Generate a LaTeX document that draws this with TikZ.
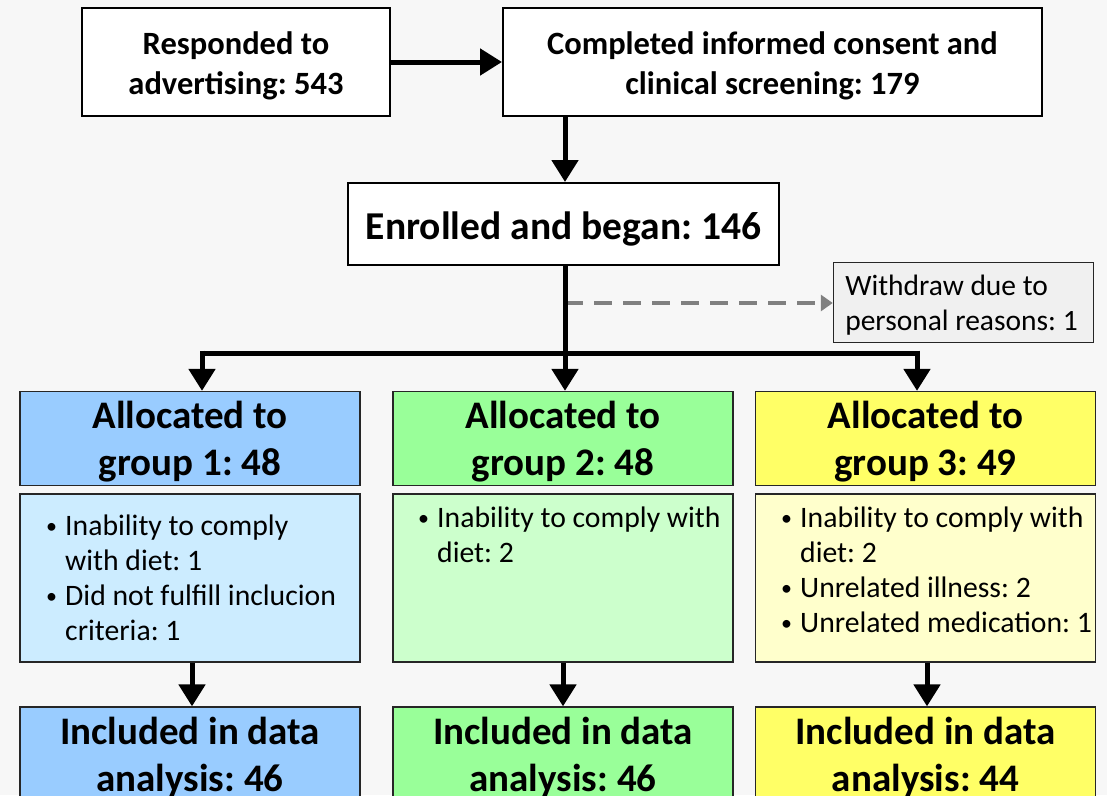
\documentclass[tikz,border=0pt]{standalone}
\usepackage{fontspec}
\setmainfont{Carlito}
\usetikzlibrary{arrows.meta}
\definecolor{bgc}{RGB}{247,247,247}
\definecolor{bordc}{RGB}{38,38,38}
\definecolor{gA}{RGB}{153,204,255}
\definecolor{gAd}{RGB}{204,236,255}
\definecolor{gB}{RGB}{153,255,153}
\definecolor{gBd}{RGB}{204,255,204}
\definecolor{gC}{RGB}{255,255,102}
\definecolor{gCd}{RGB}{255,255,204}
\definecolor{wdfill}{RGB}{240,240,240}
\definecolor{dashc}{RGB}{128,128,128}
\newcommand{\bul}{\raisebox{2pt}{\fontsize{22}{22}\selectfont\textbullet}}
\newcommand{\lowr}[2]{\raisebox{-#1}[\height][\depth]{#2}}
\frenchspacing
\begin{document}
\begin{tikzpicture}[x=1pt,y=-1pt,
  topbox/.style={draw=black, line width=2pt, fill=white, align=center, inner sep=0pt,
    font=\bfseries\fontsize{32.5}{40}\selectfont},
  enrbox/.style={draw=black, line width=2pt, fill=white, align=center, inner sep=0pt,
    font=\bfseries\fontsize{39.5}{46}\selectfont},
  grpbox/.style={draw=bordc, line width=1.3pt, align=center, inner sep=0pt,
    minimum width=340pt, minimum height=90pt, font=\bfseries\fontsize{39}{47}\selectfont},
  detbox/.style={draw=bordc, line width=1.3pt, inner sep=0pt, minimum width=340pt, minimum height=168pt},
  dettext/.style={anchor=north west, inner sep=0pt, align=left, font=\fontsize{29.7}{35}\selectfont},
  wdbox/.style={draw=bordc, line width=1pt, fill=wdfill, inner sep=0pt, align=left,
    minimum width=257pt, minimum height=80pt, font=\fontsize{29.5}{35}\selectfont},
  arr/.style={line width=5pt, -{Triangle[width=26pt,length=22pt]}},
  dasharrow/.style={draw=dashc, line width=4pt, dash pattern=on 18pt off 11pt,
    -{Triangle[width=16pt,length=12pt]}},
]
\useasboundingbox (0,0) rectangle (1107,795);
\clip (0,0) rectangle (1107,795);
\fill[bgc] (0,0) rectangle (1107,795);

% top row
\node[topbox, minimum width=308pt, minimum height=108pt] (adv) at (236,62) {\lowr{4pt}{\begin{tabular}{@{}c@{}}Responded to\\advertising: 543\end{tabular}}};
\node[topbox, minimum width=539pt, minimum height=108pt] (cons) at (772.5,62) {\lowr{4pt}{\begin{tabular}{@{}c@{}}Completed informed consent and\\clinical screening: 179\end{tabular}}};
\node[enrbox, minimum width=431pt, minimum height=82pt] (enr) at (563.5,224) {\lowr{5pt}{Enrolled and began: 146}};

% withdraw
\node[wdbox] (wd) at (963.5,302) {\hspace*{12pt}\lowr{4pt}{\begin{tabular}{@{}l@{}}Withdraw due to\\personal reasons: 1\end{tabular}}\hspace*{16pt}};

% groups
\node[grpbox, fill=gA] (g1) at (190,438.5) {\lowr{4pt}{\begin{tabular}{@{}c@{}}Allocated to\\group 1: 48\end{tabular}}};
\node[grpbox, fill=gB] (g2) at (563,438.5) {\lowr{4pt}{\begin{tabular}{@{}c@{}}Allocated to\\group 2: 48\end{tabular}}};
\node[grpbox, fill=gC] (g3) at (925.5,438.5) {\lowr{4pt}{\begin{tabular}{@{}c@{}}Allocated to\\group 3: 49\end{tabular}}};

\node[detbox, fill=gAd] (d1) at (190,578) {};
\node[detbox, fill=gBd] (d2) at (563,578) {};
\node[detbox, fill=gCd] (d3) at (925.5,578) {};

\node[dettext] (t1) at (46,510.5) {\begin{tabular}{@{}p{19pt}@{}l@{}}\bul & Inability to comply\\ & with diet: 1\\ \bul & Did not fulfill inclucion\\ & criteria: 1\end{tabular}};
\node[dettext] (t2) at (418,502.5) {\begin{tabular}{@{}p{19pt}@{}l@{}}\bul & Inability to comply with\\ & diet: 2\end{tabular}};
\node[dettext] (t3) at (781,502.5) {\begin{tabular}{@{}p{19pt}@{}l@{}}\bul & Inability to comply with\\ & diet: 2\\ \bul & Unrelated illness: 2\\ \bul & Unrelated medication: 1\end{tabular}};

\node[grpbox, fill=gA, minimum height=100pt] (i1) at (190,757) {Included in data\\analysis: 46};
\node[grpbox, fill=gB, minimum height=100pt] (i2) at (563,757) {Included in data\\analysis: 46};
\node[grpbox, fill=gC, minimum height=100pt] (i3) at (925.5,757) {Included in data\\analysis: 44};

% connectors
\draw[arr] (adv) -- (cons);
\draw[arr] (cons.south -| 565,0) -- (enr.north -| 565,0);
\coordinate (bl) at (202,353);
\coordinate (br) at (917,353);
\coordinate (dsh) at (565,303);
\draw[dasharrow] (dsh) -- (wd.west |- dsh);
\draw[line width=5pt] (bl) -- (br);
\draw[arr] (enr.south -| 565,0) -- (g2.north -| 565,0);
\draw[arr] ([yshift=2.5pt]bl) -- (g1.north -| bl);
\draw[arr] ([yshift=2.5pt]br) -- (g3.north -| br);

\draw[arr] (d1.south -| 192,0) -- (i1.north -| 192,0);
\draw[arr] (d2.south) -- (i2.north);
\draw[arr] (d3.south -| 927,0) -- (i3.north -| 927,0);
\end{tikzpicture}
\end{document}
